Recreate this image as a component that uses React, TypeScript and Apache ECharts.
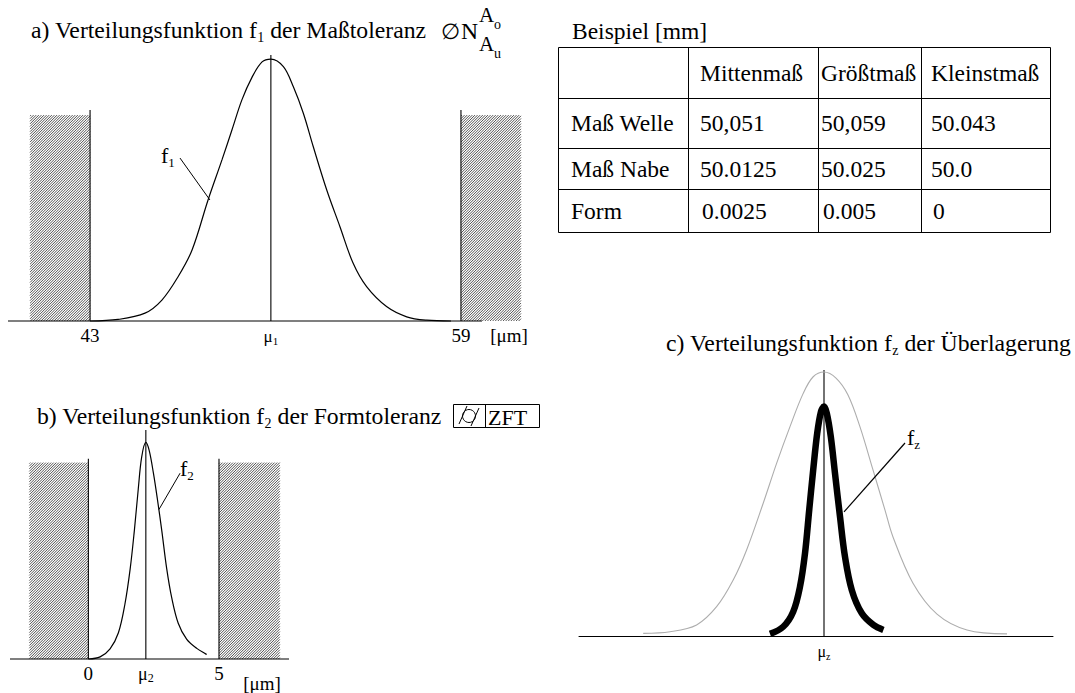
import React, { useEffect, useRef } from "react";
import * as echarts from "echarts";

const FAMILY = "'Liberation Serif'";
const fontOf = (size: number) => `${size}px 'Liberation Serif'`;

// ---------------- Panel a: f1 (Maßtoleranz), x in µm ----------------
const aTickValues = [43, 50.8, 59, 61.07];
const aTickLabels = ["43", "{mu|μ}{sub|1}", "59", "{unit|[μm]}"];
const aMu = 50.8;
const aLimits = [43, 59];
const aHatch = [
  [40.41, 43, 0.786],
  [59, 61.59, 0.786],
];
const aLimitTop = 0.805;
const aBaselineEnds = [39.46, 59.91];
const f1X = [43.0, 44.21, 45.37, 46.1, 46.79, 47.4, 48.09, 48.69, 49.12, 49.55, 49.99, 50.42, 50.8, 51.34, 51.77, 52.2, 52.63, 53.21, 53.78, 54.35, 54.93, 55.79, 56.66, 57.52, 58.57];
const f1Y = [0.0, 0.006, 0.03, 0.08, 0.168, 0.271, 0.462, 0.615, 0.729, 0.844, 0.931, 0.989, 1.0, 0.971, 0.894, 0.793, 0.665, 0.5, 0.36, 0.22, 0.131, 0.055, 0.016, 0.003, 0.0];
const f1Leader = [[46.88, 0.622], [48.17, 0.462]];

// ---------------- Panel b: f2 (Formtoleranz), x in µm ----------------
const bTickValues = [0, 2.2, 5, 6.65];
const bTickLabels = ["0", "{mu|μ}{sub|2}", "5", "{unit|[μm]}"];
const bMu = 2.2;
const bLimits = [0, 5];
const bHatch = [
  [-2.26, 0, 0.907],
  [5, 7.33, 0.907],
];
const bLimitTop = 0.925;
const f2X = [0, 0.45, 0.83, 1.15, 1.4, 1.6, 1.76, 1.91, 2.04, 2.2, 2.33, 2.49, 2.64, 2.81, 3.0, 3.19, 3.44, 3.76, 4.15, 4.53];
const f2Y = [0, 0.01, 0.047, 0.121, 0.254, 0.416, 0.593, 0.785, 0.932, 1.0, 0.962, 0.858, 0.74, 0.593, 0.416, 0.283, 0.165, 0.092, 0.049, 0.021];
const f2Leader = [[3.51, 0.858], [2.7, 0.69]];

// ---------------- Panel c: fz (Überlagerung), relative units ----------------
const cTickValues = [0];
const cTickLabels = ["{mu|μ}{sub|z}"];
const f1RefX = [-9.04, -7.7, -6.37, -5.37, -4.54, -3.87, -3.04, -2.37, -1.7, -1.04, -0.54, 0, 0.6, 1.2, 1.8, 2.45, 3.05, 3.45, 4.45, 5.65, 7.15, 9.15];
const f1RefY = [0.01, 0.016, 0.042, 0.111, 0.212, 0.326, 0.503, 0.654, 0.793, 0.919, 0.982, 1.0, 0.977, 0.913, 0.792, 0.629, 0.477, 0.375, 0.2, 0.083, 0.023, 0.008];
const fzX = [-2.7, -2.04, -1.54, -1.2, -0.95, -0.74, -0.54, -0.34, -0.15, 0, 0.14, 0.34, 0.55, 0.8, 1.05, 1.39, 1.89, 2.47, 2.97];
const fzY = [0.008, 0.035, 0.092, 0.187, 0.313, 0.477, 0.629, 0.768, 0.85, 0.869, 0.844, 0.755, 0.616, 0.452, 0.3, 0.174, 0.086, 0.042, 0.023];
const fzLeader = [[4.05, 0.731], [1.0, 0.47]];

// ---------------- Table ----------------
const tableCaption = "Beispiel [mm]";
const tableHeader = ["", "Mittenmaß", "Größtmaß", "Kleinstmaß"];
const tableRows = [
  ["Maß Welle", "50,051", "50,059", "50.043"],
  ["Maß Nabe", "50.0125", "50.025", "50.0"],
  ["Form", "0.0025", "0.005", "0"],
];

// ---------------- Layout ----------------
const TITLE_SIZE = 23.7;
const TABLE_SIZE = 23.5;
const TBL_X = [558, 688, 818, 921, 1050];
const TBL_Y = [47, 98, 148, 189, 232];
const TBL_TEXT_DX = [13, 12, 3, 10];
const TBL_FORM_DX = 2;
const TBL_ROW_CENTERS = [73, 123, 169, 211];

const zip = (xs: number[], ys: number[]) => xs.map((x, i) => [x, ys[i]]);

const hatchRender = (_p: any, api: any) => {
  const a = api.coord([api.value(0), api.value(2)]);
  const b = api.coord([api.value(1), 0]);
  const x0 = Math.min(a[0], b[0]);
  const x1 = Math.max(a[0], b[0]);
  const y0 = Math.min(a[1], b[1]);
  const y1 = Math.max(a[1], b[1]);
  const children: any[] = [];
  const step = 2.6;
  for (let c = x0 + y0 + 1; c < x1 + y1; c += step) {
    const xa = Math.max(x0, c - y1);
    const xb = Math.min(x1, c - y0);
    if (xb - xa < 0.3) continue;
    children.push({
      type: "line",
      shape: { x1: xa, y1: c - xa, x2: xb, y2: c - xb },
      style: { stroke: "#333", lineWidth: 0.85 },
    });
  }
  return { type: "group", children };
};

const segRender = (_p: any, api: any) => {
  const p1 = api.coord([api.value(0), api.value(1)]);
  const p2 = api.coord([api.value(2), api.value(3)]);
  return {
    type: "line",
    shape: { x1: p1[0], y1: p1[1], x2: p2[0], y2: p2[1] },
    style: { stroke: "#000", lineWidth: 1.1 },
  };
};

const tickFormatter = (vals: number[], labels: string[]) => (v: number) => {
  const i = vals.findIndex((t) => Math.abs(t - v) < 1e-6);
  return i >= 0 ? labels[i] : "";
};

const tickRich = (muSize: number, subSize: number, unitPad: number) => ({
  mu: { fontSize: muSize, fontFamily: FAMILY, color: "#000", lineHeight: 20, verticalAlign: "middle" },
  sub: { fontSize: subSize, fontFamily: FAMILY, color: "#000", lineHeight: subSize, verticalAlign: "bottom" },
  unit: { fontSize: 19, fontFamily: FAMILY, color: "#000", padding: [unitPad, 0, 0, 0] },
});

const textRich = (size: number, subSize: number) => ({
  t: { font: fontOf(size), fontSize: size, fontFamily: FAMILY, fill: "#000", lineHeight: size + 5, verticalAlign: "middle" },
  s: { font: fontOf(subSize), fontSize: subSize, fontFamily: FAMILY, fill: "#000", lineHeight: subSize, verticalAlign: "bottom" },
});

const txt = (x: number, y: number, text: string, size = TABLE_SIZE) => ({
  type: "text",
  x,
  y,
  style: { text, font: fontOf(size), fill: "#000", verticalAlign: "middle" },
});

const richTxt = (x: number, y: number, text: string, size: number, subSize: number) => ({
  type: "text",
  x,
  y,
  style: { text, rich: textRich(size, subSize), font: fontOf(size), fill: "#000", verticalAlign: "middle" },
});

const lineEl = (x1: number, y1: number, x2: number, y2: number, w = 1) => ({
  type: "line",
  shape: { x1, y1, x2, y2 },
  style: { stroke: "#000", lineWidth: w },
});

function buildGraphics() {
  const g: any[] = [];
  // titles
  g.push(richTxt(31, 30, "{t|a) Verteilungsfunktion f}{s|1}{t| der Maßtoleranz}", TITLE_SIZE, 14));
  g.push(txt(441, 31, "∅", 22));
  g.push(txt(461, 31, "N", TITLE_SIZE));
  g.push(txt(479, 15, "A", 21));
  g.push(txt(494, 24, "o", 14));
  g.push(txt(479, 44, "A", 21));
  g.push(txt(494, 53, "u", 14));
  g.push(richTxt(37, 416, "{t|b) Verteilungsfunktion f}{s|2}{t| der Formtoleranz}", TITLE_SIZE, 14));
  g.push(richTxt(666, 343, "{t|c) Verteilungsfunktion f}{s|z}{t| der Überlagerung}", TITLE_SIZE, 14));
  // ZFT feature control frame
  g.push({ type: "rect", shape: { x: 453.5, y: 404.5, width: 86, height: 23 }, style: { fill: "none", stroke: "#000", lineWidth: 1 } });
  g.push(lineEl(485.5, 404.5, 485.5, 427.5));
  g.push({ type: "circle", shape: { cx: 469, cy: 416, r: 6.5 }, style: { fill: "none", stroke: "#000", lineWidth: 1 } });
  g.push(lineEl(459, 424, 467, 406));
  g.push(lineEl(471, 426, 479, 408));
  g.push(txt(488, 417, "ZFT", 22));
  // curve labels
  g.push(richTxt(161, 155, "{t|f}{s|1}", 22, 13));
  g.push(richTxt(180, 468, "{t|f}{s|2}", 22, 13));
  g.push(richTxt(907, 437, "{t|f}{s|z}", 22, 13));
  // table
  g.push(txt(572, 31, tableCaption, TABLE_SIZE));
  g.push({
    type: "rect",
    shape: { x: TBL_X[0] + 0.5, y: TBL_Y[0] + 0.5, width: TBL_X[4] - TBL_X[0], height: TBL_Y[4] - TBL_Y[0] },
    style: { fill: "none", stroke: "#000", lineWidth: 1 },
  });
  for (let i = 1; i < 4; i++) g.push(lineEl(TBL_X[0], TBL_Y[i] + 0.5, TBL_X[4], TBL_Y[i] + 0.5));
  for (let j = 1; j < 4; j++) g.push(lineEl(TBL_X[j] + 0.5, TBL_Y[0], TBL_X[j] + 0.5, TBL_Y[4]));
  const allRows = [tableHeader, ...tableRows];
  allRows.forEach((row, r) => {
    row.forEach((cell, c) => {
      if (!cell) return;
      const dx = TBL_TEXT_DX[c] + (r === 3 && c > 0 ? TBL_FORM_DX : 0);
      g.push(txt(TBL_X[c] + dx, TBL_ROW_CENTERS[r], cell, TABLE_SIZE));
    });
  });
  return g;
}

const makeOption = () => {
  const curve = (xi: number, data: number[][], color = "#000", width = 1.2, smooth: number | boolean = 0.35) => ({
    type: "line",
    xAxisIndex: xi,
    yAxisIndex: xi,
    data,
    smooth,
    symbol: "none",
    clip: false,
    silent: true,
    lineStyle: { color, width, cap: "butt" },
    z: 3,
  });
  const hatch = (xi: number, data: number[][]) => ({
    type: "custom",
    xAxisIndex: xi,
    yAxisIndex: xi,
    data,
    clip: false,
    silent: true,
    renderItem: hatchRender,
    z: 1,
  });
  const segs = (xi: number, data: number[][]) => ({
    type: "custom",
    xAxisIndex: xi,
    yAxisIndex: xi,
    data,
    clip: false,
    silent: true,
    renderItem: segRender,
    z: 2,
  });
  const baseX = (gi: number, min: number, max: number, vals: number[], labels: string[], muSize: number, subSize: number, unitPad: number, showLine: boolean) => ({
    type: "value",
    gridIndex: gi,
    min,
    max,
    axisLine: { show: showLine, onZero: true, lineStyle: { color: "#000", width: 1 } },
    axisTick: { show: false },
    splitLine: { show: false },
    axisLabel: {
      show: true,
      customValues: vals,
      formatter: tickFormatter(vals, labels),
      margin: 5,
      fontSize: 19,
      fontFamily: FAMILY,
      color: "#000",
      rich: tickRich(muSize, subSize, unitPad),
    },
  });
  const aYMax = 1.015;
  const bYMax = 1.0575;
  const cYMax = 1.0076;
  return {
    animation: false,
    textStyle: { fontFamily: FAMILY },
    grid: [
      { left: 8, top: 55.1, width: 513, height: 265.9 },
      { left: 10, top: 430, width: 279, height: 239 },
      { left: 579, top: 370, width: 474, height: 266 },
    ],
    xAxis: [
      baseX(0, 39.46, 61.59, aTickValues, aTickLabels, 17, 11, 0, false),
      baseX(1, -3.0, 7.68, bTickValues, bTickLabels, 18, 12, 10, false),
      baseX(2, -12.25, 11.45, cTickValues, cTickLabels, 16, 10, 0, true),
    ],
    yAxis: [
      { type: "value", gridIndex: 0, min: 0, max: aYMax, show: false },
      { type: "value", gridIndex: 1, min: 0, max: bYMax, show: false },
      { type: "value", gridIndex: 2, min: 0, max: cYMax, show: false },
    ],
    series: [
      // panel a
      hatch(0, aHatch),
      segs(0, [
        [aBaselineEnds[0], 0, aBaselineEnds[1], 0],
        [aLimits[0], 0, aLimits[0], aLimitTop],
        [aLimits[1], 0, aLimits[1], aLimitTop],
        [aMu, 0, aMu, aYMax],
      ]),
      curve(0, zip(f1X, f1Y)),
      curve(0, f1Leader, "#000", 1, false),
      // panel b
      hatch(1, bHatch),
      segs(1, [
        [-3.0, 0, 7.68, 0],
        [bLimits[0], 0, bLimits[0], bLimitTop],
        [bLimits[1], 0, bLimits[1], bLimitTop],
        [bMu, 0, bMu, bYMax],
      ]),
      curve(1, zip(f2X, f2Y)),
      curve(1, f2Leader, "#000", 1, false),
      // panel c
      segs(2, [[0, 0, 0, cYMax]]),
      curve(2, zip(f1RefX, f1RefY), "#adadad", 1.1),
      curve(2, zip(fzX, fzY), "#000", 6.5),
      curve(2, fzLeader, "#000", 1.2, false),
    ],
    graphic: buildGraphics(),
  };
};

export default function App() {
  const ref = useRef<HTMLDivElement>(null);
  useEffect(() => {
    if (!ref.current) return;
    const chart = echarts.init(ref.current, undefined, { renderer: "svg" });
    chart.setOption(makeOption() as any);
    return () => chart.dispose();
  }, []);
  return (
    <div
      ref={ref}
      style={{ position: "fixed", left: 0, top: 0, width: 1075, height: 693, background: "#fff" }}
    />
  );
}
